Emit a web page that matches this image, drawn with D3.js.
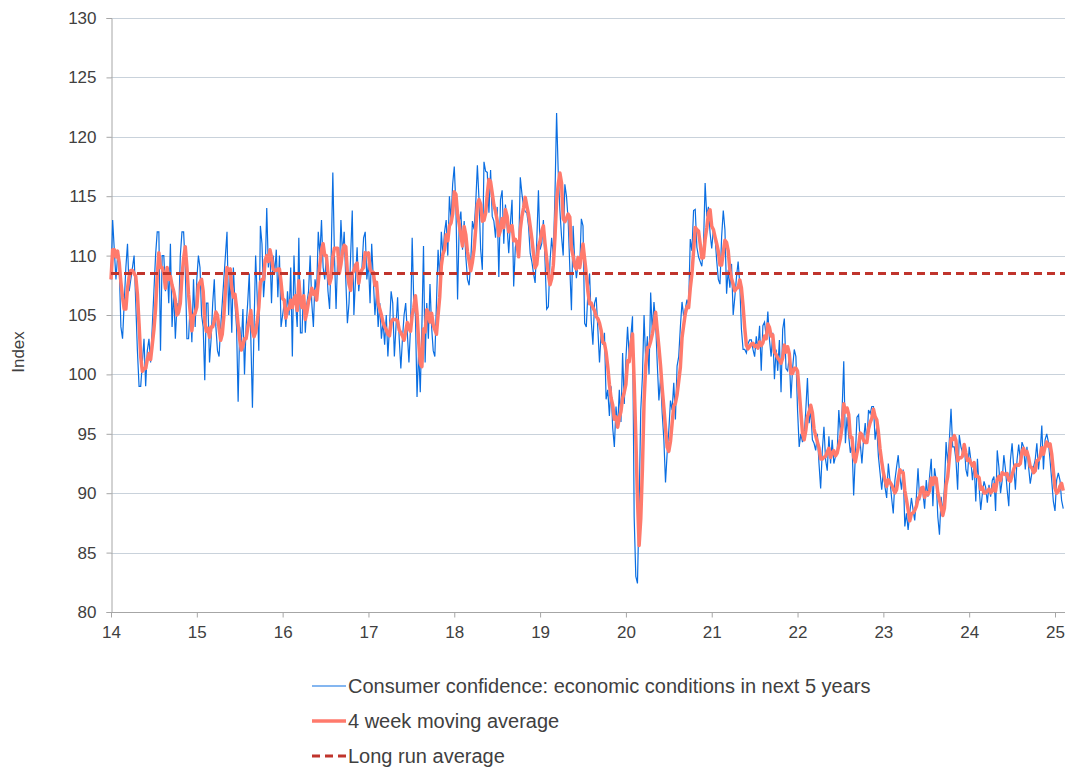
<!DOCTYPE html>
<html>
<head>
<meta charset="utf-8">
<script src="https://cdn.jsdelivr.net/npm/d3@7"></script>
<style>
  body { margin: 0; background: #fff; }
  svg text { font-family: "Liberation Sans", Arial, sans-serif; fill: #404040; }
</style>
</head>
<body>
<script>
// weekly index values, one list per year
var conf14 = [108, 113, 110.5, 108, 110, 109, 104, 103, 106, 109, 111, 107, 108, 109, 110, 106, 102, 99, 99, 101, 103, 99, 102, 103, 101, 104, 107, 110, 112, 112, 102, 110, 110, 107, 109, 106, 111, 104, 107, 103, 106, 105, 110, 112, 112, 109, 103, 103, 106, 102.7, 108, 104];
var conf15 = [108, 110, 109, 105, 104, 99.5, 106, 106, 101, 103, 106, 108, 104, 102, 101.5, 104, 106, 108, 110, 112, 105, 108.5, 103.5, 109, 106, 104, 97.7, 104, 102.5, 105.5, 100, 104, 106, 108.5, 103, 97.2, 104, 110, 106.5, 102, 112.5, 111, 106.5, 108.5, 114, 109, 110.5, 106, 110, 108.5, 110.5, 106.5, 110, 104];
var conf16 = [105, 106, 104, 107, 105, 109, 101.5, 110, 106, 104, 111.5, 103.5, 103.5, 108, 103.5, 106, 107, 110, 106, 104, 108, 107, 112, 110, 113, 109, 108, 110, 107, 105.5, 110, 117, 110, 105.5, 110, 108.5, 113, 110, 112, 108, 104.3, 106, 110, 113.8, 105, 108, 110.7, 107, 108.5, 109, 111.5, 112, 108];
var conf17 = [109.4, 106, 111, 108, 105, 107, 104, 106, 103, 104.5, 102.5, 105, 101.5, 104, 107, 106, 101.5, 104, 106.5, 103, 100.5, 103, 105, 106, 103.5, 101, 104, 111.5, 106, 105, 98.1, 102, 98.5, 104, 110.8, 101, 106, 103, 107.6, 104, 102, 101.5, 106, 110.5, 108, 112, 110, 112, 113, 110, 115, 113, 116];
var conf18 = [117.5, 114.1, 106.3, 112.7, 113.7, 110.5, 112.9, 109.9, 108, 107.5, 109.5, 112.9, 112.2, 114.4, 117.6, 114.7, 110.5, 108.8, 117.9, 117.1, 117, 113.6, 117.2, 113.3, 112.9, 111.5, 114.1, 108.2, 114.7, 115.5, 111, 114.3, 112.5, 110.2, 112.7, 114.7, 107.4, 110.7, 111.3, 110.2, 116.6, 115.2, 114.1, 113.7, 113.6, 112.5, 110.2, 109.5, 108.5, 107.7, 111.3, 115.5];
var conf19 = [110.5, 111, 113, 109.5, 105.5, 105.7, 109.5, 111.5, 110, 115, 122, 117, 113.8, 111.6, 110, 116, 115, 113, 109, 105.4, 112.5, 109.5, 108.1, 109.3, 109, 113.1, 112.5, 104.3, 104, 107, 108.5, 104.5, 102.5, 106, 106.5, 103.8, 101, 103.5, 102.5, 103.5, 97.9, 98.7, 96.5, 99, 95.5, 93.9, 97.3, 95.5, 98.7, 96, 101.8, 97.5];
var conf20 = [101.3, 104, 101.5, 103.2, 104.9, 88, 83, 82.4, 89, 97, 99.8, 105, 101, 103.2, 100, 106.9, 103.5, 106.1, 104.4, 100.9, 97.8, 99.8, 96.7, 94.5, 90.9, 93.4, 95.3, 97.8, 97, 99.3, 96.2, 100.7, 101.5, 104, 106.1, 104.9, 105.5, 106.3, 105.8, 111.4, 110.4, 113.8, 113.9, 110.7, 109.9, 109.5, 109.1, 110.8, 116.1, 113.3, 114.1, 111.9];
var conf21 = [110.6, 112.2, 111.6, 109.6, 108, 107.6, 111.6, 113.8, 112.2, 106.8, 108.8, 107.3, 109.3, 105, 106.5, 108.2, 109.5, 107.6, 103.8, 102.1, 102.1, 101.8, 102.6, 102.9, 102.9, 102.1, 101.5, 103.2, 102.1, 104.1, 100.3, 104.1, 104.4, 103.2, 105.3, 102.9, 101.5, 103.5, 99.6, 102.1, 100.3, 102.9, 98.5, 103.8, 104.7, 100.5, 100.3, 101.5, 98, 100.5, 102.1, 101.5];
var conf22 = [97, 93.9, 95, 94.3, 94.8, 97, 99.7, 95.9, 97, 94.5, 94.2, 93.6, 95, 92.5, 90.4, 93.6, 95.6, 92.8, 91.9, 94.8, 92.5, 94.5, 92.5, 93.1, 93.4, 97, 95, 97, 101.1, 94.2, 96.4, 94.8, 93.4, 94.2, 89.8, 93.1, 96.4, 96.6, 94.2, 92.5, 94.5, 95.9, 94.2, 97, 96.7, 97.3, 97.3, 94.5, 95.6, 93.1, 91.7, 90.3];
var conf23 = [91.9, 90.5, 89.6, 92.5, 91.1, 89.6, 88.3, 91.1, 92.2, 93.2, 91.4, 90.3, 92, 87.2, 88.3, 86.9, 88.3, 89.6, 88.6, 87.7, 89.7, 92.1, 89.4, 90.5, 90, 88.7, 91.1, 89.7, 91.4, 92.9, 88.9, 92.1, 91.1, 88, 86.5, 89.7, 88.3, 90.5, 94.3, 92.5, 94.5, 97.1, 93.9, 93.9, 92.8, 90.3, 94.9, 93.9, 93.4, 94.2, 92, 91.4];
var conf24 = [93.9, 92.8, 91.1, 92.5, 89.3, 92.9, 90.5, 88.6, 90, 91, 90.5, 89.2, 90.7, 89.7, 91.1, 91.4, 88.5, 93.6, 92.2, 90, 91.1, 93.2, 92, 90.3, 88.9, 92.8, 94.2, 92.2, 90.3, 92.8, 94.1, 92.8, 94.3, 93.9, 92, 93.9, 92.2, 90.8, 91.7, 92.2, 92.8, 94.2, 92, 93.4, 95.7, 92, 94.5, 95, 94.3, 92.8, 91.1, 89.3];
var conf25 = [88.5, 91.1, 91.7, 91.1, 89.4, 88.7];

var years = [14, 15, 16, 17, 18, 19, 20, 21, 22, 23, 24, 25];
var yearValues = [conf14, conf15, conf16, conf17, conf18, conf19, conf20, conf21, conf22, conf23, conf24, conf25];

var longRunAvg = 108.5;
var yTicks = [80, 85, 90, 95, 100, 105, 110, 115, 120, 125, 130];
var xTicks = [14, 15, 16, 17, 18, 19, 20, 21, 22, 23, 24, 25];

var legendLabels = [
    "Consumer confidence: economic conditions in next 5 years",
    "4 week moving average",
    "Long run average"
];

d3.select(window).on('load', init);

function init()
{
    //Width and height
    var w = 1065;
    var h = 772;

    var left = 111, right = 1065, top = 18, bottom = 612;

    // build the weekly series, spreading each year's values over the year
    var series = [];
    yearValues.forEach(function(vals, k) {
        var n = years[k] === 25 ? 52 : vals.length;
        vals.forEach(function(v, i) {
            series.push({ t: years[k] + i / n, v: v });
        });
    });

    // trailing 4 week moving average
    var ma = series.map(function(d, i) {
        var win = series.slice(Math.max(0, i - 3), i + 1);
        return { t: d.t, v: d3.mean(win, function(e) { return e.v; }) };
    });

    // Scale functions:
    var xScale = d3.scaleLinear()
        .domain([14, 25])
        .range([left, 1055]);

    var yScale = d3.scaleLinear()
        .domain([80, 130])
        .range([bottom, top]);

    //Create SVG element
    var svg = d3.select("body")
        .append("svg")
        .attr("width", w)
        .attr("height", h);

    // gridlines
    svg.selectAll("line.grid")
        .data(yTicks.slice(1))
        .enter()
        .append("line")
        .attr("class", "grid")
        .attr("x1", left)
        .attr("x2", right)
        .attr("y1", function(d) { return Math.round(yScale(d)) + 0.5; })
        .attr("y2", function(d) { return Math.round(yScale(d)) + 0.5; })
        .attr("stroke", "#c9d2db")
        .attr("stroke-width", 1);

    // y axis
    var yAxis = d3.axisLeft(yScale)
        .tickValues(yTicks)
        .tickSize(5)
        .tickPadding(10);

    var gy = svg.append("g")
        .attr("transform", "translate(" + (left + 0.5) + ",0)")
        .call(yAxis);
    gy.select(".domain").attr("stroke", "#a6a6a6");
    gy.selectAll(".tick line").attr("stroke", "#a6a6a6");
    gy.selectAll(".tick text")
        .style("font-size", "17px")
        .attr("fill", "#404040");

    // x axis
    var xAxis = d3.axisBottom(xScale)
        .tickValues(xTicks)
        .tickSize(5)
        .tickPadding(8)
        .tickFormat(d3.format("d"));

    var gx = svg.append("g")
        .attr("transform", "translate(0," + (bottom + 0.5) + ")")
        .call(xAxis);
    gx.select(".domain")
        .attr("d", "M" + left + ",0H" + right)
        .attr("stroke", "#a6a6a6");
    gx.selectAll(".tick line").attr("stroke", "#a6a6a6");
    gx.selectAll(".tick text")
        .style("font-size", "17px")
        .attr("fill", "#404040");

    // y title
    svg.append("text")
        .attr("transform", "translate(24,352) rotate(-90)")
        .attr("text-anchor", "middle")
        .style("font-size", "17px")
        .text("Index");

    var line = d3.line()
        .x(function(d) { return xScale(d.t); })
        .y(function(d) { return yScale(d.v); });

    // weekly series
    svg.append("path")
        .datum(series)
        .attr("d", line)
        .attr("fill", "none")
        .attr("stroke", "#0a6ee2")
        .attr("stroke-width", 1.2);

    // moving average
    svg.append("path")
        .datum(ma)
        .attr("d", line)
        .attr("fill", "none")
        .attr("stroke", "#ff7a6c")
        .attr("stroke-width", 3.5)
        .attr("stroke-linejoin", "round");

    // long run average
    svg.append("line")
        .attr("x1", left)
        .attr("x2", right)
        .attr("y1", yScale(longRunAvg))
        .attr("y2", yScale(longRunAvg))
        .attr("stroke", "#c0342c")
        .attr("stroke-width", 3)
        .attr("stroke-dasharray", "8,5");

    // legend
    var legend = svg.selectAll("g.legend")
        .data(legendLabels)
        .enter()
        .append("g")
        .attr("class", "legend")
        .attr("transform", function(d, i) { return "translate(312," + (686 + i * 35) + ")"; });

    legend.append("line")
        .attr("x1", 0)
        .attr("x2", 34)
        .attr("y1", 0)
        .attr("y2", 0)
        .attr("stroke", function(d, i) { return ["#0a6ee2", "#ff7a6c", "#c0342c"][i]; })
        .attr("stroke-width", function(d, i) { return [1.2, 3.5, 3][i]; })
        .attr("stroke-dasharray", function(d, i) { return i === 2 ? "8,5" : null; });

    legend.append("text")
        .attr("x", 36)
        .attr("y", 7)
        .style("font-size", "20px")
        .text(function(d) { return d; });
}
</script>
</body>
</html>
